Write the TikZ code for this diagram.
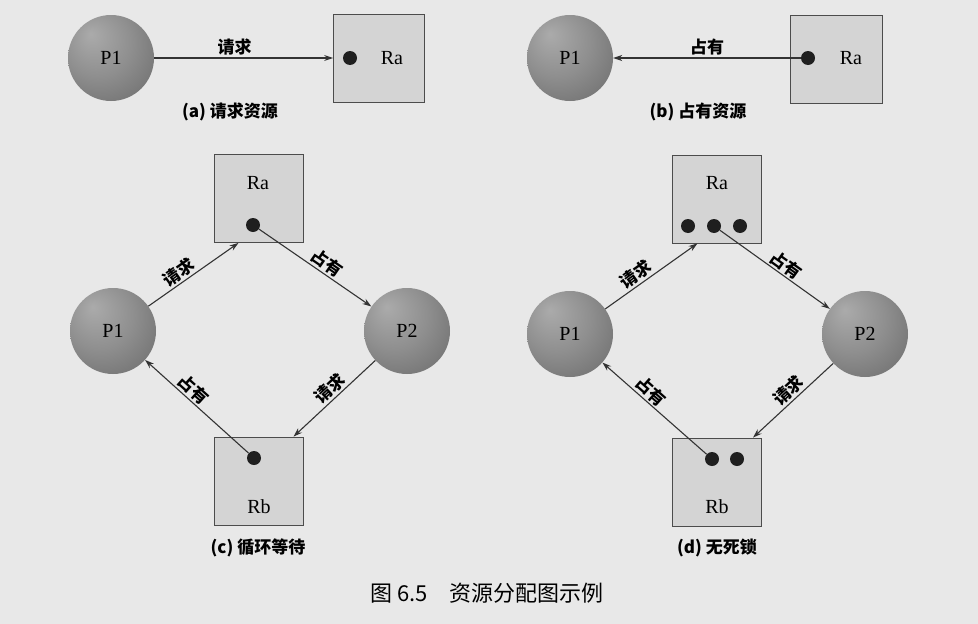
\documentclass[tikz,border=0pt]{standalone}
\usepackage{fontspec}
\setmainfont{Liberation Serif}
\newfontfamily\cjk{Noto Sans CJK SC}
\usetikzlibrary{arrows.meta}
\definecolor{bg}{gray}{0.91}
\definecolor{resfill}{gray}{0.83}
\definecolor{edgecol}{gray}{0.2}
\pgfdeclareradialshading{sphere}{\pgfpoint{-12bp}{14bp}}{%
  color(0bp)=(gray!66!white); color(20bp)=(gray!88!white);
  color(40bp)=(gray!86!black); color(62bp)=(gray!62!black)}
\tikzset{
  proc/.style={circle, minimum size=86pt, inner sep=0pt, shade, shading=sphere,
    font=\fontsize{20}{20}\selectfont},
  res/.style={rectangle, draw=black!70, line width=0.8pt, fill=resfill,
    minimum width=89pt, minimum height=88pt, inner sep=0pt},
  inst/.style={circle, fill=black!88, minimum size=14pt, inner sep=0pt},
  rlab/.style={font=\fontsize{20}{20}\selectfont, inner sep=0pt},
  conn/.style={-{Stealth[length=9pt,width=6pt]}, line width=1.1pt, draw=edgecol},
  lab/.style={font=\cjk\bfseries\fontsize{17}{17}\selectfont, sloped, above, inner sep=2pt},
  subcap/.style={font=\cjk\bfseries\fontsize{17}{17}\selectfont, inner sep=0pt},
  bigcap/.style={font=\cjk\fontsize{22}{22}\selectfont, inner sep=0pt}
}
\begin{document}
\begin{tikzpicture}[x=1pt,y=-1pt]
\fill[bg] (0,0) rectangle (978,624);
\useasboundingbox (0,0) rectangle (978,624);

% (a) request
\node[proc] (P1a) at (111,58) {P1};
\node[res, minimum width=91pt] (Raa) at (379,58) {};
\node[inst] (da) at (350,58) {};
\node[rlab] (ta) at (392,58) {Ra};
\draw[conn] (P1a) -- (Raa) node[lab, pos=0.45] {请求};
\node[subcap] (ca) at (230,112) {(a)\ 请求资源};

% (b) hold
\node[proc] (P1b) at (570,58) {P1};
\node[res, minimum width=92pt] (Rab) at (836,59) {};
\node[inst] (db) at (808,58) {};
\node[rlab] (tb) at (851,58) {Ra};
\draw[conn] (db) -- (P1b) node[lab, midway] {占有};
\node[subcap] (cb) at (698,112) {(b)\ 占有资源};

% (c) circular wait
\node[res] (Rac) at (258.5,198.5) {};
\node[rlab] (tac) at (258,183) {Ra};
\node[inst] (dac) at (253,225) {};
\node[res] (Rbc) at (258.5,481) {};
\node[rlab] (tbc) at (259,507) {Rb};
\node[inst] (dbc) at (254,458) {};
\node[proc] (P1c) at (113,331) {P1};
\node[proc] (P2c) at (407,331) {P2};
\draw[conn] (P1c) -- ([xshift=-20pt]Rac.south) node[lab, pos=0.4] {请求};
\draw[conn] (dac) -- (P2c) node[lab, pos=0.55] {占有};
\draw[conn] (P2c) -- ([xshift=35pt]Rbc.north) node[lab, pos=0.47] {请求};
\draw[conn] (dbc) -- (P1c) node[lab, pos=0.6] {占有};
\node[subcap] (cc) at (258,548) {(c)\ 循环等待};

% (d) no deadlock
\node[res] (Rad) at (716.5,199) {};
\node[rlab] (tad) at (717,183) {Ra};
\node[inst] (dad1) at (688,226) {};
\node[inst] (dad2) at (714,226) {};
\node[inst] (dad3) at (740,226) {};
\node[res] (Rbd) at (717,482) {};
\node[rlab] (tbd) at (717,507) {Rb};
\node[inst] (dbd1) at (712,459) {};
\node[inst] (dbd2) at (737,459) {};
\node[proc] (P1d) at (570,334) {P1};
\node[proc] (P2d) at (865,334) {P2};
\draw[conn] (P1d) -- ([xshift=-19pt]Rad.south) node[lab, pos=0.4] {请求};
\draw[conn] (dad2) -- (P2d) node[lab, pos=0.55] {占有};
\draw[conn] (P2d) -- ([xshift=36pt]Rbd.north) node[lab, pos=0.47] {请求};
\draw[conn] (dbd1) -- (P1d) node[lab, pos=0.6] {占有};
\node[subcap] (cd) at (717,548) {(d)\ 无死锁};

% figure caption
\node[bigcap] (fig) at (487,593) {图 6.5\quad 资源分配图示例};
\end{tikzpicture}
\end{document}
